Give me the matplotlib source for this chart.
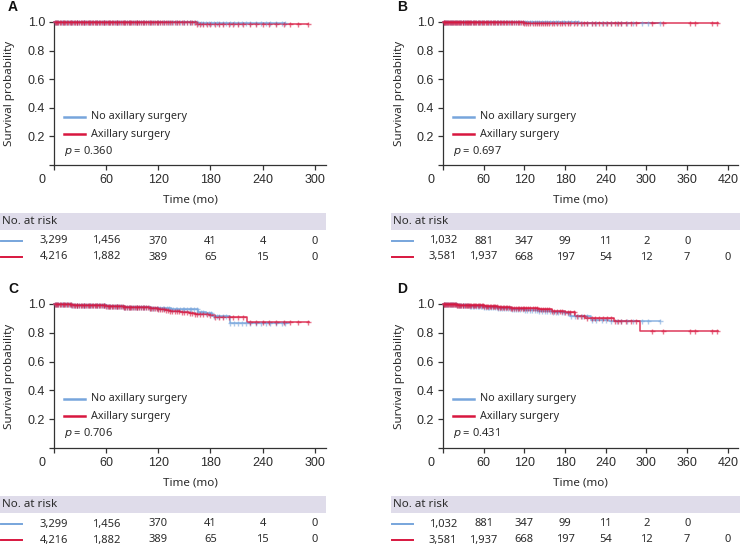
import numpy as np
import matplotlib
matplotlib.use("Agg")
import matplotlib.pyplot as plt
from matplotlib.lines import Line2D
from matplotlib.patches import Rectangle
from matplotlib.transforms import blended_transform_factory

# ---------------- data ----------------
series_names = ["No axillary surgery", "Axillary surgery"]

# Panel A (cohort 1)
A_no_t = [0, 60, 120, 165, 200, 266]
A_no_s = [1.0, 0.999, 0.998, 0.996, 0.994, 0.994]
A_ax_t = [0, 60, 120, 150, 165, 180, 292]
A_ax_s = [1.0, 0.999, 0.998, 0.997, 0.988, 0.985, 0.985]

# Panel B (cohort 2)
B_no_t = [0, 60, 120, 200, 320]
B_no_s = [1.0, 0.998, 0.997, 0.995, 0.995]
B_ax_t = [0, 30, 60, 120, 406]
B_ax_s = [1.0, 0.999, 0.998, 0.995, 0.995]

# Panel C (cohort 1)
C_no_t = [0, 10, 20, 30, 40, 50, 60, 70, 80, 90, 100, 110, 120, 135, 166, 175, 182, 202, 270]
C_no_s = [1.0, 0.998, 0.996, 0.994, 0.992, 0.990, 0.988, 0.985, 0.982, 0.979, 0.977, 0.975, 0.973, 0.968, 0.945, 0.940, 0.915, 0.868, 0.868]
C_ax_t = [0, 10, 20, 30, 40, 50, 60, 70, 80, 90, 100, 110, 120, 128, 133, 145, 155, 162, 178, 185, 222, 294]
C_ax_s = [1.0, 0.998, 0.996, 0.994, 0.992, 0.990, 0.988, 0.985, 0.982, 0.979, 0.976, 0.972, 0.967, 0.958, 0.950, 0.945, 0.937, 0.930, 0.925, 0.910, 0.873, 0.873]

# Panel D (cohort 2)
D_no_t = [0, 20, 40, 60, 80, 100, 120, 140, 160, 180, 188, 218, 245, 320]
D_no_s = [1.0, 0.994, 0.987, 0.980, 0.973, 0.967, 0.960, 0.953, 0.945, 0.935, 0.915, 0.890, 0.885, 0.885]
D_ax_t = [0, 20, 40, 60, 80, 100, 120, 140, 160, 180, 195, 210, 252, 291, 406]
D_ax_s = [1.0, 0.995, 0.990, 0.985, 0.980, 0.975, 0.970, 0.962, 0.952, 0.942, 0.920, 0.905, 0.885, 0.815, 0.815]

# censoring times (shared within cohort)
c1_no_cens = [1, 2, 4, 5, 7, 9, 10, 12, 14, 15, 17, 19, 20, 22, 24, 26, 27, 29, 31, 33, 34, 36, 38, 40,
              41, 43, 45, 47, 49, 50, 52, 54, 56, 58, 59, 61, 63, 65, 67, 69, 71, 72, 74, 76, 78, 80,
              82, 84, 86, 88, 90, 92, 94, 96, 98, 100, 102, 104, 106, 109, 111, 113, 115, 118, 120,
              122, 125, 127, 130, 132, 135, 137, 140, 142, 145, 148, 150, 153, 156, 158, 161, 164,
              166, 169, 172, 175, 178, 181, 184, 187, 190, 194, 198, 203, 207, 212, 216, 221, 226,
              232, 238, 244, 249, 255, 262, 266]
c1_ax_cens = [1, 2, 4, 5, 7, 8, 10, 11, 13, 15, 16, 18, 19, 21, 23, 24, 26, 27, 29, 31, 32, 34, 35, 37,
              39, 40, 42, 44, 45, 47, 48, 50, 52, 53, 55, 57, 58, 60, 62, 63, 65, 67, 68, 70, 72, 73,
              75, 77, 79, 80, 82, 84, 86, 87, 89, 91, 93, 95, 96, 98, 100, 102, 104, 106, 108, 110,
              112, 114, 116, 118, 120, 122, 124, 127, 129, 131, 134, 136, 139, 141, 144, 147, 150,
              153, 156, 159, 162, 165, 168, 172, 176, 180, 185, 190, 195, 201, 206, 212, 218, 225,
              233, 240, 247, 256, 265, 272, 281, 292]
c2_no_cens = [1, 3, 4, 6, 8, 10, 12, 13, 15, 17, 19, 21, 23, 25, 27, 29, 31, 33, 35, 37, 40, 42, 44, 46,
              49, 51, 53, 56, 58, 61, 63, 66, 68, 71, 73, 76, 79, 81, 84, 87, 90, 93, 96, 99, 102, 105,
              108, 111, 114, 118, 121, 124, 128, 131, 135, 138, 142, 146, 150, 154, 158, 162, 166,
              170, 175, 179, 184, 189, 194, 199, 205, 212, 219, 226, 234, 241, 248, 256, 263, 272,
              280, 293, 302, 320]
c2_ax_cens = [1, 2, 3, 5, 6, 7, 9, 10, 12, 13, 15, 16, 18, 19, 21, 22, 24, 25, 27, 29, 30, 32, 34, 35,
              37, 39, 40, 42, 44, 46, 47, 49, 51, 53, 55, 57, 59, 61, 63, 65, 67, 69, 71, 73, 75, 77,
              79, 81, 84, 86, 88, 90, 93, 95, 97, 100, 102, 105, 107, 110, 112, 115, 118, 120, 123,
              126, 129, 132, 135, 138, 141, 144, 147, 150, 154, 157, 161, 164, 168, 172, 176, 180,
              184, 188, 193, 198, 203, 208, 213, 219, 224, 230, 236, 242, 248, 253, 258, 263, 270,
              277, 285, 308, 325, 364, 372, 397, 404]

# number at risk
ticks_1 = [0, 60, 120, 180, 240, 300]
risk_1_no = ["3,299", "1,456", "370", "41", "4", "0"]
risk_1_ax = ["4,216", "1,882", "389", "65", "15", "0"]
ticks_2 = [0, 60, 120, 180, 240, 300, 360, 420]
risk_2_no = ["1,032", "881", "347", "99", "11", "2", "0", ""]
risk_2_ax = ["3,581", "1,937", "668", "197", "54", "12", "7", "0"]

y_ticks = [0, 0.2, 0.4, 0.6, 0.8, 1.0]
p_values = {"A": "0.360", "B": "0.697", "C": "0.706", "D": "0.431"}

# ---------------- style ----------------
W, H = 740, 545
BLUE = "#77a5dc"
RED = "#d8173f"
TXT = "#2b2b2b"
BAND = "#dfdcea"
tick_font = "Liberation Sans"
lab_font = "Noto Sans"

fig = plt.figure(figsize=(W / 100, H / 100), dpi=100)


def fx(x):
    return x / W


def fy(y):
    return 1 - y / H


def surv_at(ts, ss, t):
    idx = np.searchsorted(np.asarray(ts), t, side="right") - 1
    return np.asarray(ss)[np.clip(idx, 0, len(ss) - 1)]


panels = [
    dict(letter="A", box=(54, 22, 326, 165), xmax=313, ticks=ticks_1,
         no=(A_no_t, A_no_s, c1_no_cens), ax_=(A_ax_t, A_ax_s, c1_ax_cens),
         risk=(risk_1_no, risk_1_ax), band_x=(0, 326)),
    dict(letter="B", box=(443, 22, 738, 165), xmax=435, ticks=ticks_2,
         no=(B_no_t, B_no_s, c2_no_cens), ax_=(B_ax_t, B_ax_s, c2_ax_cens),
         risk=(risk_2_no, risk_2_ax), band_x=(391, 740)),
    dict(letter="C", box=(54, 304, 326, 448), xmax=313, ticks=ticks_1,
         no=(C_no_t, C_no_s, c1_no_cens), ax_=(C_ax_t, C_ax_s, c1_ax_cens),
         risk=(risk_1_no, risk_1_ax), band_x=(0, 326)),
    dict(letter="D", box=(443, 304, 738, 448), xmax=435, ticks=ticks_2,
         no=(D_no_t, D_no_s, c2_no_cens), ax_=(D_ax_t, D_ax_s, c2_ax_cens),
         risk=(risk_2_no, risk_2_ax), band_x=(391, 740)),
]

for P in panels:
    l, t, r, b = P["box"]
    ax = fig.add_axes([fx(l), fy(b), (r - l) / W, (b - t) / H])
    ax.set_xlim(0, P["xmax"])
    ax.set_ylim(0, 1.0)
    ax.set_facecolor("none")
    for s in ["top", "right"]:
        ax.spines[s].set_visible(False)
    for s in ["left", "bottom"]:
        ax.spines[s].set_color("#333333")
        ax.spines[s].set_linewidth(0.9)
    ax.set_xticks(P["ticks"])
    ax.set_xticklabels([""] + [str(v) for v in P["ticks"][1:]])
    ax.set_yticks(y_ticks)
    ax.set_yticklabels([""] + ["%.1f" % v for v in y_ticks[1:]])
    ax.tick_params(length=3.5, width=0.9, color="#333333", labelsize=9,
                   labelcolor=TXT, pad=3)
    for lab in ax.get_xticklabels() + ax.get_yticklabels():
        lab.set_fontfamily(tick_font)

    for (ts, ss, cens), col in [(P["no"], BLUE), (P["ax_"], RED)]:
        ax.step(ts, ss, where="post", color=col, lw=1.1, alpha=0.85, clip_on=False, zorder=3)
        ct = np.asarray(cens)
        ax.plot(ct, surv_at(ts, ss, ct), ls="none", marker="+", ms=3.6, mew=1.0,
                color=col, alpha=0.6, clip_on=False, zorder=4)

    # origin label
    fig.text(fx(l - 12), fy(b + 15), "0", ha="center", va="center", fontsize=9,
             family=tick_font, color=TXT)
    # panel letter
    fig.text(fx(l - 46), fy(t - 15), P["letter"],
             ha="left", va="center", fontsize=10, fontweight="bold", family="Liberation Sans", color="#111111")
    # axis labels
    fig.text(fx(l - 44), fy((t + b) / 2), "Survival probability", rotation=90,
             ha="center", va="center", fontsize=8.4, family=lab_font, color=TXT)
    fig.text(fx(l + 136 if P["letter"] in "AC" else l + 137), fy(b + 35), "Time (mo)",
             ha="center", va="center", fontsize=8.4, family=lab_font, color=TXT)

    # legend
    for k, (name, col) in enumerate(zip(series_names, [BLUE, RED])):
        yy = t + 95 + 17 * k
        fig.add_artist(Line2D([fx(l + 10), fx(l + 31)], [fy(yy), fy(yy)], color=col, lw=1.8,
                              transform=fig.transFigure))
        fig.text(fx(l + 37), fy(yy), name, ha="left", va="center", fontsize=7.8,
                 family=lab_font, color=TXT)
    fig.text(fx(l + 10), fy(t + 129), r"$\it{p}$ = " + p_values[P["letter"]], ha="left",
             va="center", fontsize=8, family=lab_font, color=TXT)

    # risk table
    bx0, bx1 = P["band_x"]
    fig.add_artist(Rectangle((fx(bx0), fy(b + 65)), (bx1 - bx0) / W, 17 / H,
                             transform=fig.transFigure, facecolor=BAND, edgecolor="none"))
    fig.text(fx(bx0 + 2), fy(b + 56.5), "No. at risk", ha="left", va="center", fontsize=8.3,
             family=lab_font, color=TXT)
    trans = blended_transform_factory(ax.transData, fig.transFigure)
    for k, (vals, col) in enumerate(zip(P["risk"], [BLUE, RED])):
        yy = b + 76 + 16 * k
        fig.add_artist(Line2D([fx(bx0 + 1), fx(bx0 + 22)], [fy(yy), fy(yy)], color=col, lw=1.4,
                              transform=fig.transFigure))
        for tv, sv in zip(P["ticks"], vals):
            ax.text(tv, fy(yy), sv, transform=trans, ha="center", va="center", fontsize=8,
                    family=lab_font, color=TXT, clip_on=False)

fig.savefig("out.png", dpi=100)
